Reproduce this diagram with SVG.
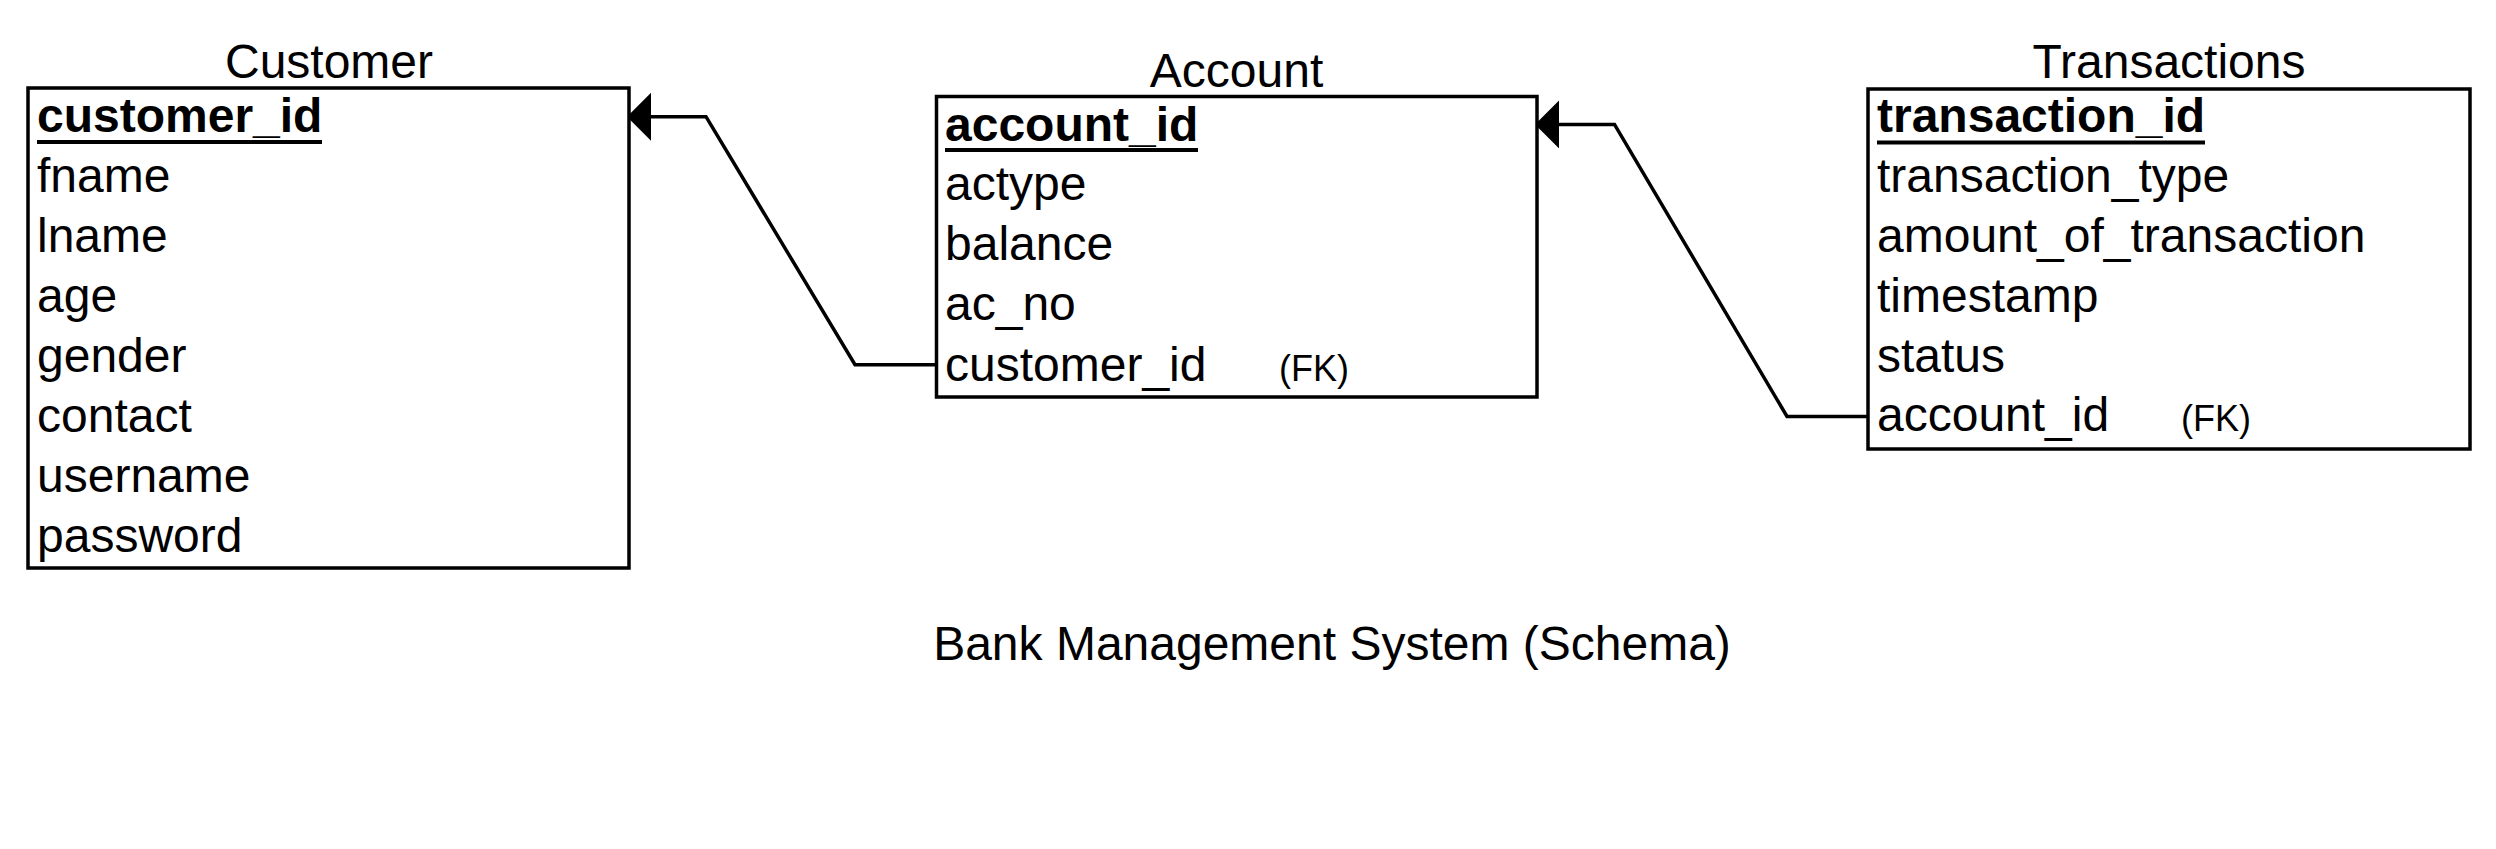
<svg xmlns="http://www.w3.org/2000/svg" width="2496" height="849" viewBox="0 0 2496 849">
<style>
text{font-family:"Liberation Sans",Arial,Helvetica,sans-serif;fill:#000}
.t{font-size:48px}
.title{font-size:48px;text-anchor:middle}
.pk{font-size:48px;font-weight:bold}
.fk{font-size:36px}
.box{fill:#fff;stroke:#000;stroke-width:3.5}
.ul{stroke:#000;stroke-width:4}
.conn{fill:none;stroke:#000;stroke-width:3.5}
</style>
<defs>
<marker id="arr" markerUnits="userSpaceOnUse" markerWidth="30" markerHeight="52" refX="24" refY="24" orient="auto" viewBox="0 0 30 52">
<path d="M0,0 L24,24 L0,48 Z" fill="#000"/>
</marker>
</defs>
<rect width="2496" height="849" fill="#fff"/>
<g id="connectors">
<path class="conn" d="M936.5,364.7 L855,364.7 L706,116.7 L627,116.7" marker-end="url(#arr)"/>
<path class="conn" d="M1868,416.5 L1787,416.5 L1614.5,124.4 L1535,124.4" marker-end="url(#arr)"/>
</g>
<g id="customer">
<text class="title" x="329" y="78">Customer</text>
<rect class="box" x="28" y="88" width="601" height="480"/>
<text class="pk" x="37" y="132">customer_id</text>
<line class="ul" x1="37" y1="142" x2="322" y2="142"/>
<text class="t" x="37" y="191.5">fname</text>
<text class="t" x="37" y="252">lname</text>
<text class="t" x="37" y="311.5">age</text>
<text class="t" x="37" y="371.5">gender</text>
<text class="t" x="37" y="432">contact</text>
<text class="t" x="37" y="492">username</text>
<text class="t" x="37" y="552">password</text>
</g>
<g id="account">
<text class="title" x="1236.5" y="87">Account</text>
<rect class="box" x="936.5" y="96.5" width="600.5" height="300.5"/>
<text class="pk" x="945" y="140.5">account_id</text>
<line class="ul" x1="945" y1="150" x2="1198" y2="150"/>
<text class="t" x="945" y="200">actype</text>
<text class="t" x="945" y="260">balance</text>
<text class="t" x="945" y="320">ac_no</text>
<text class="t" x="945" y="381">customer_id</text>
<text class="fk" x="1279" y="381">(FK)</text>
</g>
<g id="transactions">
<text class="title" x="2169" y="78">Transactions</text>
<rect class="box" x="1868" y="89" width="602" height="360"/>
<text class="pk" x="1877" y="132">transaction_id</text>
<line class="ul" x1="1877" y1="142.5" x2="2205" y2="142.5"/>
<text class="t" x="1877" y="191.5">transaction_type</text>
<text class="t" x="1877" y="252">amount_of_transaction</text>
<text class="t" x="1877" y="311.5">timestamp</text>
<text class="t" x="1877" y="371.5">status</text>
<text class="t" x="1877" y="431">account_id</text>
<text class="fk" x="2181" y="431">(FK)</text>
</g>
<g id="caption">
<text class="title" x="1332" y="660">Bank Management System (Schema)</text>
</g>
</svg>
